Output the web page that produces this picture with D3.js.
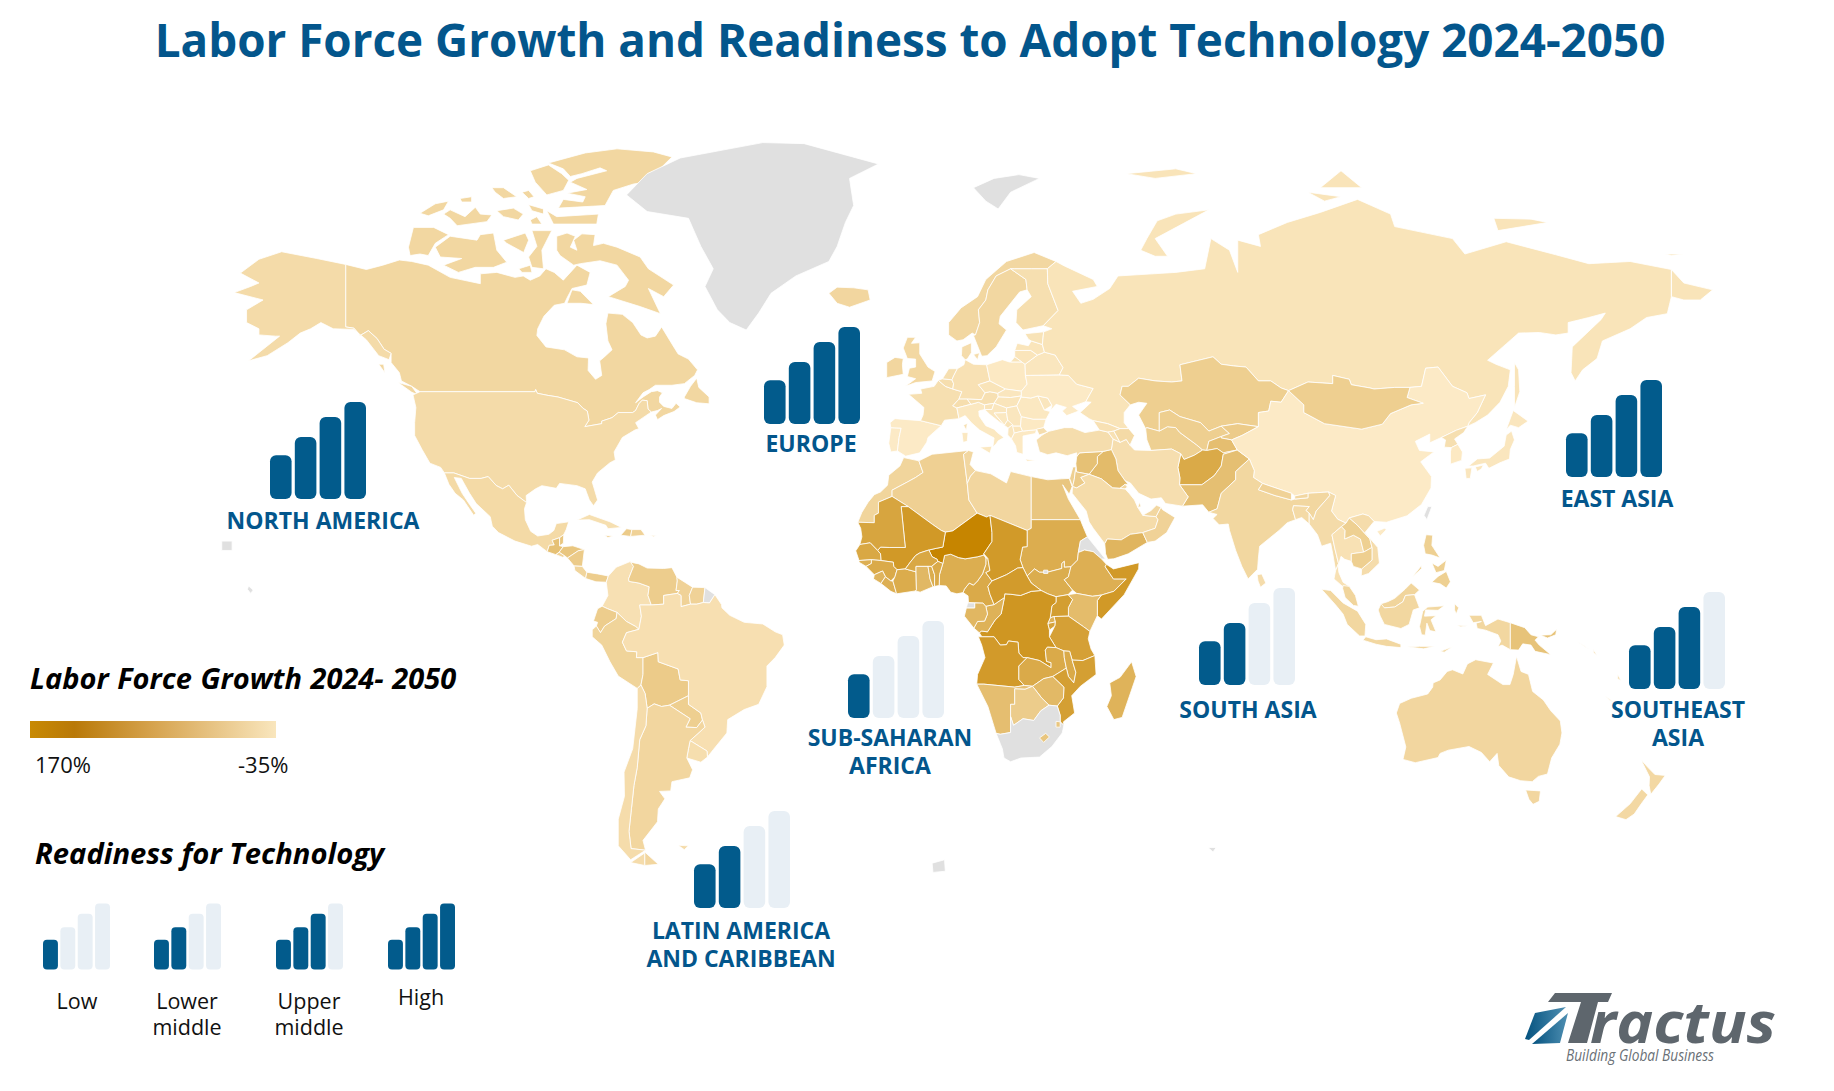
<!DOCTYPE html>
<html><head><meta charset="utf-8">
<script src="https://cdn.jsdelivr.net/npm/d3@7"></script>
<style>html,body{margin:0;background:#fff}svg{display:block}text{font-family:"Open Sans",sans-serif}</style>
</head><body><svg id="c" width="1834" height="1091"></svg>
<script>
// ---------- data ----------
const chartTitle = "Labor Force Growth and Readiness to Adopt Technology 2024-2050";
const growthLegendTitle = "Labor Force Growth 2024- 2050";
const readinessLegendTitle = "Readiness for Technology";
const growthDomain = [-35, 170];
const growthRange = ["#fdebc8", "#c68500"];
const readinessTiers = ["Low", "Lower middle", "Upper middle", "High"];
const regionNames = [["NORTH AMERICA"], ["EUROPE"], ["EAST ASIA"], ["SUB-SAHARAN", "AFRICA"], ["LATIN AMERICA", "AND CARIBBEAN"], ["SOUTH ASIA"], ["SOUTHEAST", "ASIA"]];
const regionReadiness = [4, 4, 4, 1, 2, 2, 3];
const barRelativeHeights = [0.45, 0.64, 0.845, 1];

// growth in % by country (null = no data)
const growth = {
Canada:5,USA:-3,Mexico:0,Guatemala:50,Belize:40,Salvador:15,Honduras:40,Nicaragua:30,CostaRica:10,Panama:25,Cuba:-10,Haiti:30,Dominican:15,Jamaica:5,PuertoRico:-10,
Colombia:-13,Venezuela:25,Guyana:15,Suriname:15,FrenchGuiana:null,Ecuador:25,Peru:12,Bolivia:30,Paraguay:22,Brazil:-11,Uruguay:-8,Argentina:7,Chile:-5,Falkland:-5,
Greenland:null,Iceland:7,Svalbard:null,
Morocco:10,Algeria:19,Tunisia:5,Libya:7,Egypt:39,Sudan:89,SouthSudan:90,Eritrea:null,Ethiopia:85,Somalia:130,Kenya:60,Uganda:120,Tanzania:115,Rwanda:80,Burundi:110,DRC:135,Congo:80,Gabon:70,EqGuinea:null,Cameroon:95,Nigeria:88,Niger:170,Chad:128,CAR:125,Mali:130,Mauritania:105,Senegal:100,GuineaBissau:85,Guinea:95,SierraLeone:75,Liberia:85,IvoryCoast:92,BurkinaFaso:100,Ghana:68,Togo:90,Benin:95,Angola:127,Zambia:95,Malawi:95,Mozambique:118,Zimbabwe:65,Namibia:55,Botswana:28,SouthAfrica:null,Lesotho:40,Eswatini:40,Madagascar:78,Abyei:null,
Portugal:-33,Spain:-33,France:-10,Belgium:-8,Netherlands:-10,Germany:-15,Switzerland:-8,Italy:-28,Austria:-12,Czechia:-20,Poland:-30,Slovakia:-25,Hungary:-22,Slovenia:-20,Croatia:-25,Bosnia:-28,Serbia:-25,Montenegro:-20,Albania:-25,NMacedonia:-22,Greece:-30,Bulgaria:-30,Romania:-28,Moldova:-25,Ukraine:-33,Belarus:-25,Lithuania:-22,Latvia:-22,Estonia:-18,Denmark:-5,Norway:5,Sweden:5,Finland:-10,UK:4,Ireland:7,
Russia:-20,Kazakhstan:22,Turkmenistan:20,Uzbekistan:22,Kyrgyzstan:30,Tajikistan:55,Afghanistan:96,Pakistan:53,Iran:-9,Iraq:61,Syria:50,Israel:20,Jordan:30,SaudiArabia:-4,Yemen:73,Oman:15,UAE:5,Qatar:5,Kuwait:5,Turkey:-7,Georgia:-15,Armenia:-15,Azerbaijan:0,China:-33,Taiwan:null,Mongolia:22,NKorea:-10,SKorea:-30,Japan:-25,India:6,Nepal:15,Bhutan:5,Bangladesh:0,SriLanka:-5,Myanmar:-3,Thailand:-15,Laos:20,Vietnam:-5,Cambodia:22,Malaysia:10,Indonesia:6,Philippines:20,PNG:46,Australia:7,NewZealand:3,Pacific:5,OceanGrey:null
};

// outlines: lon lat pairs by country
const outlines = {
Canada:["-123 49,-95.15 49,-95 49.4,-94.6 48.7,-92 48.3,-89.6 48,-84.8 46.9,-83.5 45.8,-82.5 45.3,-82.1 43.5,-83.1 42.2,-79 42.8,-79 43.3,-76.5 44,-75 45,-71.5 45,-70.8 45.4,-70 46.7,-69.2 47.4,-68 47.3,-67.8 45.7,-67 45.1,-65.5 45.4,-64.5 45.8,-66 44.5,-65.5 43.6,-64 44.4,-61.5 45.2,-60 46.1,-61 46.8,-62 45.8,-64 46.2,-65 47,-65 48,-64.3 48.8,-65.5 49.2,-67 49,-69 48,-70.8 46.9,-69 48.8,-67.5 49.4,-66 50.2,-62 50.2,-59 50.5,-56.5 52,-55.8 53,-58 54.9,-60.5 55.8,-62 57.5,-64.5 60.3,-66 58.8,-68 58.5,-69.5 59,-71.5 61,-74 62.3,-77.5 62.5,-78 60.8,-77.5 58,-76.5 56.5,-78.5 55.2,-79.5 54.6,-79 52,-80.5 51.3,-82.3 52.9,-82.2 55.1,-85 55.3,-88 56.5,-92.5 57,-94.7 58.9,-94.5 60,-93 62,-90.5 63.7,-88 64,-87.4 64.8,-86.2 66.2,-82.6 66.7,-81.8 68.5,-85 69.5,-88.3 67.4,-90.5 68.5,-92.5 69,-94 68,-96.3 67.4,-98 68,-100 67.8,-104.4 68.5,-108.4 68.3,-108.4 66.9,-115.7 67.8,-121 69.5,-125 70,-128 70.2,-132 69.5,-136 68.9,-141 69.6,-141 60.3,-139 60.1,-137.5 58.9,-135.5 59.7,-133.4 58.4,-131.7 56.6,-130 55.9,-130 54.3,-128 52.5,-127.5 51,-125 50",
"-91.9 81.6,-83 82.6,-75.3 83,-66.5 82.7,-62 82.2,-64.9 81,-67.7 80.5,-65.3 79.8,-71.3 79.4,-76.2 78.7,-78.2 77,-89.5 76.7,-88.3 77.7,-83.6 77.4,-83 78,-87.4 78.4,-82.6 78.8,-86.6 79.6,-85 80,-77.8 80.8,-79.4 81.1,-83.8 80.5,-86.6 80.2,-88.3 81",
"-96.3 80.8,-91.9 81.4,-88.7 80.5,-87 79.8,-88.3 78.7,-92.3 78.2,-95.1 79.6",
"-98.3 78.5,-96.7 78.7,-95.4 78,-96.7 77.8","-105.6 79,-102.8 79,-99.6 78,-102.8 77.8,-104.8 78.5","-113.3 77.8,-110.5 78,-110.5 77.4,-112.9 77.4",
"-123 76.1,-119.3 77.2,-116.1 77.5,-117.3 76.5,-121 75.8",
"-117.3 76,-115.7 76.5,-112.1 75.7,-109.6 76.8,-108.4 76,-105.6 75.9,-106.8 75.1,-114 74.6,-115.7 75.5",
"-104.4 76.4,-100.4 76.7,-98 76,-99.2 75.3,-102.8 75.7",
"-92.3 76.4,-89.9 75.7,-79.8 76,-80.2 74.8,-90.7 74.8",
"-96.7 77.1,-93.1 76.6,-93.1 76,-95.9 76.4","-96.3 75.3,-94.7 75.7,-93.5 74.8,-95.9 74.8",
"-124.6 74.4,-119.7 74.4,-116.1 73.5,-119.3 72.4,-121 70.8,-123 71,-125.4 70.8,-125.8 71.9",
"-119.3 71.9,-115.7 73.3,-109.2 72.8,-108.4 73.5,-105.2 73.7,-104.4 71.5,-102 69.9,-105.2 69.2,-109.6 69.2,-113.7 68.5,-117.3 69.5,-112.9 70.4,-118.1 70.6",
"-102.8 72.8,-97.5 73.7,-96.7 72.8,-97.9 71.2,-102 72.4",
"-95.9 74,-91.1 74,-93.5 71.5,-93.1 69,-95.9 69.2,-96.7 70.6,-94.7 72",
"-89.9 71.5,-89.9 73.3,-87.4 73.7,-85.4 73.3,-86.6 71.9,-85 71.5,-85.8 72.8,-83.8 73.6,-80.6 73.5,-81 72.1,-78.6 72.4,-75.3 71.9,-69.7 70.6,-67.7 69,-61.6 66.7,-64 65,-67.7 66.2,-64.8 62.4,-69.7 63.5,-77.4 65,-73.3 66.5,-72.5 67.4,-75.3 69.5,-79.4 70.1,-84.2 69.7,-85.8 69.5,-89.1 70.8",
"-99.1 69,-96.3 69.5,-95.9 68.5,-98.3 68.5",
"-87.4 64,-86.2 66,-84.2 65.8,-81 63.8,-84 64",
"-59 47.7,-56 46.9,-53 46.7,-53 48,-55.5 49.8,-56 51.5,-57.5 50,-59 48","-128.3 50.7,-125 48.9,-123.5 48.4,-125 50","-133 54,-131.8 54,-131.5 52.5"],
USA:["-123 49,-124.7 48.4,-124 46,-124.3 43,-124.3 40.4,-122.5 37.5,-120.6 34.6,-118 33.7,-117.1 32.5,-114.8 32.5,-111 31.3,-108.2 31.3,-106.5 31.7,-104.5 29.7,-103 29,-101.5 29.8,-99.5 27.5,-97.2 25.9,-97.3 27.5,-95 29,-93.5 29.7,-90 29.1,-89.2 30.2,-85 29.7,-83 29,-82 26.5,-81 25.2,-80 26.5,-81.3 30.5,-80 32.5,-77 34.7,-75.7 35.3,-76 37,-74 40,-71 41.5,-70 41.8,-70.8 43,-69 44,-67 45.1,-67.8 45.7,-68 47.3,-69.2 47.4,-70 46.7,-70.8 45.4,-71.5 45,-75 45,-76.5 44,-79 43.3,-79 42.8,-83.1 42.2,-82.1 43.5,-82.5 45.3,-83.5 45.8,-84.8 46.9,-89.6 48,-92 48.3,-94.6 48.7,-95 49.4,-95.15 49",
"-141 69.6,-148 70.4,-156.5 71.3,-162 70.3,-166.5 68.4,-162 67,-164 66.5,-168 65.6,-161 64.5,-165 63,-165 61,-162 60,-162 59,-158 58.8,-157 58.8,-164.5 54.6,-160 55.5,-155 57.7,-152 59.3,-149.5 60,-147 61,-144 60,-139 59.9,-136 58.2,-133 55.5,-130.5 54.8,-130 55.9,-131.7 56.6,-133.4 58.4,-135.5 59.7,-137.5 58.9,-139 60.1,-141 60.3"],
Mexico:["-117.1 32.5,-116 30,-114.5 28,-112.5 26.5,-110 23,-109.5 23.5,-111 25.5,-112.8 28,-114.7 31.5,-113 31.3,-111 28,-109.4 25.7,-106 22.7,-105.5 20.5,-104 19,-100 17,-96 15.8,-94.5 16.2,-92.2 14.5,-91.7 16,-90.5 16.1,-91 17.2,-89.2 17.8,-88.2 18.5,-87.6 19.7,-87 21.5,-90 21.1,-90.6 19.5,-91.8 18.6,-94.5 18.2,-96.2 19.3,-97.5 22,-97.7 24.5,-97.2 25.9,-99.5 27.5,-101.5 29.8,-103 29,-104.5 29.7,-106.5 31.7,-108.2 31.3,-111 31.3,-114.8 32.5"],
Guatemala:["-92.2 14.5,-91.7 16,-90.5 16.1,-91 17.2,-89.2 17.8,-89.2 15.9,-88.3 15.7,-89.3 14.4,-90.1 13.8"],
Belize:["-89.2 17.8,-88.2 18.5,-88.3 16.5,-89.2 15.9"],Salvador:["-90.1 13.8,-89.3 14.4,-87.8 13.4,-88.5 13.2"],
Honduras:["-89.3 14.4,-88.3 15.7,-86 15.9,-83.2 15,-84.7 14.7,-87.3 13,-87.8 13.4"],Nicaragua:["-87.3 13,-84.7 14.7,-83.2 15,-83.7 11,-85.7 11.1"],
CostaRica:["-85.7 11.1,-83.7 11,-82.6 9.6,-82.9 8.1,-85.5 10"],Panama:["-82.9 8.1,-82.6 9.6,-80 9.2,-77.4 8.7,-77.9 7.2,-80.4 7.3"],
Cuba:["-85 21.9,-82 23.2,-77 21.5,-74.2 20.2,-77.5 19.9,-78 20.7,-82 22"],Haiti:["-74.4 18.4,-72 18.1,-71.7 19.7,-73 19.9"],Dominican:["-71.7 19.7,-72 18.1,-68.5 18.4,-69.5 19.7"],Jamaica:["-78.3 18.4,-76.3 18.2,-77.5 17.8"],PuertoRico:["-67.2 18.4,-65.7 18.3,-66.5 18"],
Colombia:["-77.4 8.7,-75.5 10.8,-72 12.2,-71.3 11,-72.5 8,-72.4 7.4,-70 7,-67.5 6.1,-67.8 4,-67 1.7,-69.8 1.7,-69.4 -1,-70 -4.2,-70.8 -3.5,-73 -2.3,-75.3 -0.1,-77.6 0.8,-78.9 1.4,-77.5 4,-77.9 7.2"],
Venezuela:["-71.3 11,-72 12,-70 11.6,-68 10.6,-64 10.5,-62 10.7,-60.8 8.4,-60.7 7.5,-61 5.2,-60.2 5.2,-60.7 4.5,-64 4,-64 1.9,-67 1.7,-67.8 4,-67.5 6.1,-70 7,-72.4 7.4,-72.5 8"],
Guyana:["-60.8 8.4,-57 6,-57.8 4,-57.5 1.9,-59.8 1.3,-59.8 4,-60.7 4.5,-60.2 5.2,-61 5.2,-60.7 7.5"],Suriname:["-57 6,-54 5.9,-54.4 2.3,-56 1.9,-57.5 1.9,-57.8 4"],FrenchGuiana:["-54 5.9,-51.6 4.2,-52.9 2.2,-54.4 2.3"],
Ecuador:["-78.9 1.4,-77.6 0.8,-75.3 -0.1,-75.5 -1.6,-78.3 -3.4,-79.3 -5,-80.3 -3.4,-80 -2.5,-81 -2.2,-80 0.8"],
Peru:["-80.3 -3.4,-79.3 -5,-78.3 -3.4,-75.5 -1.6,-75.3 -0.1,-73 -2.3,-70.8 -3.5,-70 -4.2,-73 -5,-74 -7.3,-73 -9.4,-70.5 -9.6,-70.6 -11,-69 -11,-69 -15,-69.5 -17.5,-70.4 -18.3,-75 -15.4,-77 -12,-79 -8,-81.3 -6,-81.3 -4.3"],
Bolivia:["-69 -11,-65.4 -9.8,-65.3 -12,-60.5 -13.7,-60 -16.3,-58 -16.5,-58 -20,-62.6 -22.2,-64.5 -22.5,-66.3 -21.9,-68 -22.9,-68.5 -19.5,-69.5 -17.5,-69 -15"],
Paraguay:["-62.6 -22.2,-58 -20,-58 -22,-55 -24,-54.6 -25.6,-56 -27.3,-58.6 -27.2,-57.6 -25.3"],
Brazil:["-51.6 4.2,-50 1.8,-49.9 1,-48 -0.8,-44.5 -2.5,-40 -2.9,-37 -4.8,-35.2 -5.5,-34.8 -8,-37 -11,-39 -13,-39 -17.9,-41 -22,-44.5 -23.2,-48.5 -25.5,-48.7 -28.5,-52 -32.2,-53.4 -33.8,-53.5 -32.5,-57.6 -30.2,-54 -27.2,-54.6 -25.6,-55 -24,-58 -22,-58 -20,-58 -16.5,-60 -16.3,-60.5 -13.7,-65.3 -12,-65.4 -9.8,-69 -11,-70.6 -11,-70.5 -9.6,-73 -9.4,-74 -7.3,-73 -5,-70 -4.2,-69.4 -1,-69.8 1.7,-67 1.7,-64 1.9,-64 4,-60.7 4.5,-59.8 4,-59.8 1.3,-57.5 1.9,-56 1.9,-54.4 2.3,-52.9 2.2"],
Uruguay:["-57.6 -30.2,-53.5 -32.5,-53.4 -33.8,-55 -34.9,-58.4 -34,-58 -32"],
Argentina:["-66.3 -21.9,-64.5 -22.5,-62.6 -22.2,-57.6 -25.3,-58.6 -27.2,-56 -27.3,-54.6 -25.6,-54 -27.2,-57.6 -30.2,-58 -32,-58.4 -34,-57 -36.5,-57.7 -38.2,-62 -39,-62.3 -40.9,-65 -41,-63.7 -42.5,-65.3 -44.5,-65.5 -47,-69 -50.5,-68.4 -52.3,-71.9 -52,-72.4 -48.8,-71.8 -44.4,-71.2 -39.8,-70.4 -36,-69.8 -30,-68.3 -26.9,-68 -22.9","-68.6 -52.6,-65.3 -54.8,-68.6 -55"],
Chile:["-70.4 -18.3,-69.5 -17.5,-68.5 -19.5,-68 -22.9,-68.3 -26.9,-69.8 -30,-70.4 -36,-71.2 -39.8,-71.8 -44.4,-72.4 -48.8,-71.9 -52,-68.4 -52.3,-72 -54,-75 -51.5,-75 -46.5,-73.5 -42,-73.6 -37,-71.5 -32,-70.4 -23","-68.6 -52.8,-68.6 -55,-72 -54.5"],
Falkland:["-60.5 -51.4,-58 -51.5,-59 -52.2"],
Greenland:["-73 78.2,-68 76.3,-58 75.5,-55 72,-52 69,-54 66.5,-51 63,-48 61,-44 59.8,-41 62.5,-38 65.5,-32 68,-24 70,-22 72,-20 75,-18 77,-19 80,-12 81.5,-30 83.5,-40 83.6,-60 82.1,-68 80.5"],
Iceland:["-24 65.5,-22 64,-19 63.4,-14 64.5,-14.5 66,-18 66.3,-22 66.4"],
Svalbard:["11 79,16 80,22 80.4,27 80,20 78.5,17 76.6,14 77.5"],
Morocco:["-5.9 35.8,-2.2 35.1,-1.2 32.6,-3 31.5,-5 30.5,-8.7 28.7,-8.7 27.3,-12 26,-12 23.5,-13 23,-13 21.3,-17 21.4,-16 23.7,-14.5 26,-13 27.7,-11.5 28.3,-9.8 29.8,-9.5 32,-6.8 34"],
Algeria:["-2.2 35.1,1 36.5,9.8 37.3,8.6 36.5,9.5 30.2,9.9 26.5,11.9 23.5,6 19.4,4.2 19.1,3.2 19.5,1.1 20.9,-4.8 25,-8.7 27.3,-8.7 28.7,-5 30.5,-3 31.5,-1.2 32.6"],
Tunisia:["8.6 36.5,9.8 37.3,11 37,10.2 34.3,11.5 33,10.3 31.8,9.5 30.2"],
Libya:["11.5 33,15.2 32.3,19 30.3,20 32.8,25 31.7,25 20,24 19.5,15 23,14.2 22.6,11.9 23.5,9.9 26.5,9.5 30.2,10.3 31.8"],
Egypt:["25 31.7,29 31,32.3 31.2,34.2 31.3,34.9 29.5,34.2 27.8,32.6 29.9,34 26.7,36.9 22,25 22"],
Sudan:["25 22,36.9 22,37.3 21,38.6 18,36.9 17,36.4 14.3,36.2 12.5,34.6 10.9,33 10.8,33 12.2,32.4 11.7,32.4 10.5,28.9 9.6,27 9.6,25.8 10.4,24 8.7,23 10.7,22.3 12.6,22.9 15.6,24 15.7,24 19.5,25 20"],
SouthSudan:["24 8.7,25.8 10.4,27 9.6,28.9 9.6,32.4 10.5,32.4 11.7,33 12.2,33 10.8,34.6 10.9,34 8.5,33 7.8,35 5.3,33.9 4.2,31 3.7,29 4.4,27.4 5.2,25 7"],
Abyei:["28 9.3,29 9.3,29 10.1,28 10.1"],
Eritrea:["36.4 14.3,36.9 17,38.6 18,43 12.7,42 12.8,40 14.5,37.9 14.9"],
Ethiopia:["36.2 12.5,36.4 14.3,37.9 14.9,40 14.5,42 12.8,43.2 11.5,42.9 10.9,44.9 8,48 8,45 5,42 4.1,39.8 3.8,36 4.5,35 5.3,33 7.8,34 8.5,34.6 10.9"],
Somalia:["43.2 11.5,44.9 10.4,51.1 11.9,51 10.4,47.5 4.2,42 -1.7,41 -0.9,41 2.8,42 4.1,45 5,48 8,44.9 8,42.9 10.9"],
Kenya:["33.9 4.2,36 4.5,39.8 3.8,42 4.1,41 2.8,41 -0.9,39.2 -4.7,37.7 -3.6,34 -1,34 1.1,35 3"],
Uganda:["31 3.7,33.9 4.2,35 3,34 1.1,34 -1,30.5 -1.1,29.6 -1.4,30 1.5,31 2.3"],
Tanzania:["30.5 -1.1,34 -1,37.7 -3.6,39.2 -4.7,38.8 -6.5,39.5 -9,40.4 -10.5,37.5 -11.7,34.9 -11.6,34.3 -9.5,32.9 -9.4,31 -8.6,29.4 -6,30.7 -3.4,30.8 -2.4"],
Rwanda:["29.6 -1.4,30.5 -1.1,30.8 -2.4,29 -2.8"],Burundi:["29 -2.8,30.8 -2.4,30.7 -3.4,29.4 -4.4"],
DRC:["12.2 -6,13 -5.9,12.4 -5,13 -4.6,14.4 -4.8,16.2 -2,17.7 -0.5,18.5 3.5,18.6 4.4,20 4.3,22.4 4,25 5,27.4 5.2,29 4.4,31 3.7,31 2.3,30 1.5,29.6 -1.4,29 -2.8,29.4 -4.4,29.4 -6,31 -8.6,28.9 -8.5,28.4 -9.2,28.7 -11.9,29.8 -12.2,29.8 -13.4,27 -11.7,24 -11,23 -11,22 -9.9,21.8 -7.3,19.5 -7,19 -7.9,17.5 -8,16 -6"],
Congo:["11.1 -3.9,12.4 -5,13 -4.6,14.4 -4.8,16.2 -2,17.7 -0.5,18.5 3.5,16 1.8,14 1.4,14.4 -0.5,13.7 -2.2,12 -2.3,12.6 -1"],
Gabon:["9.3 1,11.3 1,11.3 2.2,13.3 2.2,14 1.4,14.4 -0.5,13.7 -2.2,12 -2.3,11.1 -3.9,8.8 -1"],EqGuinea:["9.6 2.2,11.3 2.2,11.3 1,9.3 1"],
Cameroon:["8.5 4.7,9.7 3.9,9.8 2.3,13.3 2.2,14 1.4,16 1.8,15 4.3,14.5 6.2,15.5 7.5,14 9.5,15 10,14.5 12.9,14 13,14 11.5,13.2 9.2,12 7.5,11 6.5,10 7,8.8 5.5"],
Nigeria:["2.7 6.4,4.4 6.3,5.5 4.8,7 4.4,8.5 4.7,8.8 5.5,10 7,11 6.5,12 7.5,13.2 9.2,14 11.5,14 13,13.5 13.7,12 13.3,9 12.8,7.4 13.1,5.5 13.9,4 13.6,3.6 11.7,2.8 9.1"],
Niger:["0.2 14.9,2 15.3,3.6 15.6,4.2 19.1,6 19.4,11.9 23.5,14.2 22.6,15 23,15.5 19,15.5 16.9,13.5 14,13.5 13.7,12 13.3,9 12.8,7.4 13.1,5.5 13.9,4 13.6,3.6 11.7,2.4 12.2,2.2 12.7,1 13.3"],
Chad:["15 23,24 19.5,24 15.7,22.9 15.6,22.3 12.6,23 10.7,21.7 10.6,19 9,15.5 7.5,14 9.5,15 10,14.5 12.9,13.5 14,15.5 16.9,15.5 19"],
CAR:["14.5 6.2,15 4.3,16 1.8,18.5 3.5,18.6 4.4,20 4.3,22.4 4,25 5,27.4 5.2,25 7,24 8.7,23 10.7,21.7 10.6,19 9,15.5 7.5"],
Mali:["-12.2 14.8,-11.5 15.6,-9.4 15.5,-5.5 15.5,-6.5 25,-4.8 25,1.1 20.9,3.2 19.5,4.2 19.1,3.6 15.6,2 15.3,0.2 14.9,-2 14.2,-3 13.6,-4.3 12,-5.5 10.4,-7.5 10.2,-8.3 11,-8.4 12,-11.4 12.4,-11.5 14"],
Mauritania:["-17 21.4,-13 21.3,-13 23,-12 23.5,-12 26,-8.7 27.3,-4.8 25,-6.5 25,-5.5 15.5,-9.4 15.5,-11.5 15.6,-12.2 14.8,-14 16.6,-16.5 16.2,-16 18,-16.3 20"],
Senegal:["-16.5 16.2,-14 16.6,-12.2 14.8,-11.5 14,-11.4 12.4,-13.7 12.6,-16.7 12.4,-17.5 14.7"],
GuineaBissau:["-16.7 12.4,-13.7 12.6,-13.7 11.7,-15 11,-16.7 12"],
Guinea:["-13.7 12.6,-11.4 12.4,-8.4 12,-8.3 11,-7.5 10.2,-8 8.5,-9 7.5,-10.3 8.5,-11 9.9,-13 9,-15 11,-13.7 11.7"],
SierraLeone:["-13 9,-11 9.9,-10.3 8.5,-11.4 6.9,-13.2 8"],Liberia:["-11.4 6.9,-10.3 8.5,-9 7.5,-8.5 7.5,-7.6 4.4,-9 5"],
IvoryCoast:["-7.6 4.4,-8.5 7.5,-8 8.5,-7.5 10.2,-5.5 10.4,-2.9 9.7,-2.8 5.4,-3 5.1"],
BurkinaFaso:["-5.5 10.4,-4.3 12,-3 13.6,-2 14.2,0.2 14.9,1 13.3,2.2 12.7,2.4 12.2,0.9 11,-2.9 11,-2.9 9.7"],
Ghana:["-3 5.1,-2.8 5.4,-2.9 9.7,-2.9 11,0 11,0.5 8,1.2 6.1,-1.9 4.8"],Togo:["0 11,0.9 11,1.6 9,1.6 6.2,1.2 6.1,0.5 8"],Benin:["0.9 11,2.4 12.2,3.6 11.7,2.8 9.1,2.7 6.4,1.6 6.2,1.6 9"],
Angola:["12.2 -6,16 -6,17.5 -8,19 -7.9,19.5 -7,21.8 -7.3,22 -9.9,23 -11,24 -11,22 -13,22 -16.2,23.3 -17.6,21 -18,13.5 -17.3,11.8 -17.3,12 -15,13.8 -11,13 -8"],
Zambia:["22 -13,24 -11,27 -11.7,29.8 -13.4,29.8 -12.2,28.7 -11.9,28.4 -9.2,28.9 -8.5,31 -8.6,32.9 -9.4,33 -11,33.5 -13.5,30.2 -15.5,28 -16,25.3 -17.8,23.3 -17.6,22 -16.2"],
Malawi:["32.9 -9.4,34.3 -9.5,34.9 -11.6,35.8 -14.5,35.3 -17,34 -15.5,33.5 -13.5,33 -11"],
Mozambique:["34.9 -11.6,37.5 -11.7,40.4 -10.5,40.7 -15,36.9 -17.8,34.8 -20,35.5 -24,32.8 -26,32.9 -26.8,32 -26,32 -24.5,31.3 -22.4,32.8 -20.5,32.9 -18,30.2 -15.5,33.5 -13.5,34 -15.5,35.3 -17,35.8 -14.5"],
Zimbabwe:["25.3 -17.8,28 -16,30.2 -15.5,32.9 -18,32.8 -20.5,31.3 -22.4,29.3 -22.2,27.5 -20.5,25.9 -18.5"],
Namibia:["11.8 -17.3,13.5 -17.3,21 -18,23.3 -17.6,25.3 -17.8,23.5 -18.5,21 -18.4,21 -22,20 -22,20 -28.4,17.5 -28.8,16.5 -28.6,14.5 -22.5"],
Botswana:["21 -18.4,23.5 -18.5,25.3 -17.8,25.9 -18.5,27.5 -20.5,29.3 -22.2,27.3 -23.5,25.6 -25.7,23 -25.3,20.7 -26.8,20 -24.8,20 -22,21 -22"],
SouthAfrica:["16.5 -28.6,17.5 -28.8,20 -28.4,20 -24.8,20.7 -26.8,23 -25.3,25.6 -25.7,27.3 -23.5,29.3 -22.2,31.3 -22.4,32 -24.5,32 -26,32.9 -26.8,32.5 -28.5,30 -31.5,27 -33.8,22.5 -34,20 -34.8,18.4 -34,18 -32"],
Lesotho:["27 -29.6,28.5 -28.6,29.4 -29.4,28 -30.6"],Eswatini:["31 -25.9,32 -26,32 -27.2,31 -27.2"],
Madagascar:["49.3 -12,50.4 -15.5,47 -25,45 -25.5,43.3 -22.5,44.4 -20,44 -17,46.5 -15.7"],
Portugal:["-9 42,-6.5 41.9,-7 40,-7.4 37.2,-9 37,-9.5 38.8"],
Spain:["-9.2 43,-8 43.8,-1.8 43.4,3.2 42.4,0 40,-0.3 39,-2 36.8,-5.4 36.1,-7.4 37.2,-7 40,-6.5 41.9,-9 42"],
France:["-1.8 43.4,3.2 42.4,4 43.5,7.5 43.8,7 45.9,6 46.3,7.5 47.6,8.2 49,6 49.5,4.2 50,2.5 51.1,1.5 50,-1.8 49.5,-1.5 48.7,-4.7 48.5,-1 46,-1.2 44.5","8.6 42.5,9.5 42.9,9.3 41.4"],
Belgium:["2.5 51.1,4.2 50,6 49.5,6.2 50.5,5.8 51.2,3.5 51.4"],Netherlands:["3.5 51.4,5.8 51.2,6.2 51.9,7.1 53.2,5 53.2,4 52"],
Germany:["6 49.5,8.2 49,7.5 47.6,9.5 47.6,13 47.5,13.8 48.8,12.2 50.3,15 51,14.7 52.1,14.2 53.9,11 54,9 54.8,8.7 53.9,7.1 53.2,6.2 51.9,5.8 51.2,6.2 50.5"],
Switzerland:["6 46.3,7 45.9,10.4 46.6,9.5 47.6,7.5 47.6"],
Italy:["7.5 43.8,9 44.4,10.5 43,12.5 41.5,16 39.9,15.7 38,16.6 38.8,17 39.3,18.4 40,16.8 41,16 41.7,14 42.4,12.4 44.3,12.3 45.3,13.7 45.6,13.7 46.5,12.2 47,10.4 46.6,7 45.9","12.5 38,15.5 38.2,15 36.7","8.2 41,9.7 41,9.5 39.2,8.5 39"],
Austria:["9.5 47.6,10.4 46.6,12.2 47,13.7 46.5,16 46.8,17 48,16.9 48.7,15 49,13.8 48.8,13 47.5"],
Czechia:["12.2 50.3,13.8 48.8,15 49,16.9 48.7,18.8 49.5,15 51"],
Poland:["14.2 53.9,14.7 52.1,15 51,18.8 49.5,22.6 49.1,24 50.4,23.6 52,23.5 54,22.7 54.4,19.7 54.4,18 54.8"],
Slovakia:["16.9 48.7,17 48,20 47.9,22.6 48.2,22.6 49.1,18.8 49.5"],Hungary:["16 46.8,19 45.9,21.5 46.3,22.6 48.2,20 47.9,17 48"],
Slovenia:["13.7 45.6,15.5 45.6,16 46.8,13.7 46.5"],Croatia:["13.7 45.6,15 44.6,17.5 43,18.5 42.5,16 44.9,19 45,19 45.9,16 46.8,15.5 45.6"],
Bosnia:["16 44.9,19 45,19.3 43.5,18.5 42.5"],Serbia:["19 45.9,21.5 46.3,22.6 44.2,22.4 42.3,20.5 42.3,19.3 43.5,19 45"],
Montenegro:["18.5 42.5,19.3 43.5,20.5 42.6,19.4 41.9"],Albania:["19.4 41.9,20.5 42.6,20.9 40.9,20.2 39.7,19.3 40.5"],NMacedonia:["20.5 42.3,22.4 42.3,22.9 41.3,20.9 40.9"],
Greece:["20.2 39.7,20.9 40.9,22.9 41.3,26.3 41.6,26 40.8,23 40.3,23 38,23 36.5,21.5 36.9,21.2 38.3","23.5 35.5,26.3 35.2,24 35"],
Bulgaria:["22.4 42.3,22.6 44.2,25.5 43.7,28.6 43.7,28 42,26.3 41.6,22.9 41.3"],
Romania:["21.5 46.3,22.6 48,24.9 47.8,26.6 48.2,28.2 45.5,29.6 45.2,28.6 43.7,25.5 43.7,22.6 44.2"],Moldova:["26.6 48.2,29 47.8,30 46.4,28.2 45.5"],
Ukraine:["22.6 49.1,22.6 48,24.9 47.8,26.6 48.2,29 47.8,30 46.4,29.7 45.4,31 46.6,33.5 46,32.5 45.3,33.6 44.4,36.5 45.3,35 46.2,38.2 47.1,40 49.6,36 50.4,34 52,31.8 52.1,23.6 52,24 50.4"],
Belarus:["23.6 52,31.8 52.1,32.7 53.4,30.8 55.6,28.2 56.1,26.5 55.6,23.5 54"],Lithuania:["21 55.3,21 56.4,24.9 56.4,26.5 55.6,23.5 54,22.7 54.4"],
Latvia:["21 56.4,21.6 57.6,24.3 57.2,25 58,27.7 57.4,28.2 56.1,26.5 55.6,24.9 56.4"],Estonia:["24.3 58.3,23.5 59.2,28 59.5,27.7 57.4,25 58"],
Denmark:["8.1 55.5,8.2 57,10.5 57.7,10.5 56,9.5 54.9,9 54.8","11 55.7,12.5 56,12 54.8"],
Norway:["5 61,5 59,7 58,8.5 58.2,10.7 59.3,11.5 59,12.5 61,12.2 63,14 64.5,14.5 66,16.5 68,20 69,21 69,25 69,28.9 69,31 70,25.7 71.2,19 70,14 67.5,12 65,8 63.3"],
Sweden:["11 58.9,11.5 59,12.5 61,12.2 63,14 64.5,14.5 66,16.5 68,20 69,23.7 67.5,24 66,22.2 65.7,17.5 62,17.2 60.8,19 59.8,16.5 57,14.3 55.5,13 55.4"],
Finland:["21 69,25 69,28.9 69,29 66.9,31.5 62.9,27.9 60.5,23 59.8,21.3 61,21.5 63,25 65,24 66,23.7 67.5,20 69"],
UK:["-5.5 50,-3 50.7,1 51,1.7 52.7,0 53.5,-2 55.8,-2 57.7,-4 57.6,-3 58.6,-5 58.6,-6 56.8,-5 55,-3 54.9,-3 53.5,-4.5 53.3,-5 51.8,-3 51.4"],
Ireland:["-6.2 53.9,-6 52.2,-10 51.6,-10 54.3,-8 55.2,-6 55"],
Russia:["28 59.5,27.7 57.4,28.2 56.1,30.8 55.6,32.7 53.4,31.8 52.1,34 52,36 50.4,40 49.6,38.2 47.1,39.5 47,37.5 45.5,36.8 45,39 43.8,40 43.4,43.5 42.8,46.5 41.8,48.6 41.8,47.5 43,47.5 45,49 46.5,46.5 48.4,47 50,48.5 50,51 51.5,55 51,59 50.8,61.5 51,61 53.9,69 55.3,71 54,74 53.7,77 53.5,80 51,83 51,85.5 49.7,87.3 49.2,92 50.8,98 50.5,98 52,102 51.3,102.5 50.3,107 49.7,108 49.5,113 49.8,116.7 49.8,119.5 50,120.5 53.3,123.5 53.5,127 50,130.5 48.8,131 47.7,135 48.4,133 45,131 43,130.7 42.3,132.5 43,135.5 44.5,138.5 47,140.5 50,141 53,137.5 54,135.5 54.7,140 57.5,143 59.3,148 59.4,152 59,155 59.3,155 61,160 61.8,164 62.5,163 61.5,156 57,155.7 52.5,156.7 51,158.5 53,162 55,163.3 58,170 60,174 61.8,179 62.4,180 65,180 68.9,170 70,160 69.7,152 70.9,140 72.6,130 71,127 73,113 74.5,112 76,104 77.7,95 76.2,87 75,80 73.5,80.5 72,75 72.8,75 68.5,73 71.5,68.5 73,67 69,60 68.5,54.5 68.3,46 68,44 66.2,40 64.6,37 64,35 65.8,41 66.5,40 67.5,33 69.4,31 70,28.9 69,29 66.9,31.5 62.9,27.9 60.5,30 60",
"180 68.9,183 67,190 66,187 64.5,183 64.5,180 65","20 54.4,22.7 54.4,21 55.3","142 54.3,143 53,143.3 49,142 46,142 50","51.5 71.5,55 70.7,58 70.7,55 73,68 76.5,60 76,55.5 75.2,53 73","48 80.5,60 81,65 80.5,55 80","95 79,105 79,100 80.8","92 78.5,100 78,96 77.5","137 75.5,146 75.4,150 75,138 74","178.5 71,183 71,180 70.8"],
Kazakhstan:["49 46.5,46.5 48.4,47 50,48.5 50,51 51.5,55 51,59 50.8,61.5 51,61 53.9,69 55.3,71 54,74 53.7,77 53.5,80 51,83 51,85.5 49.7,87.3 49.2,85.5 47,83 47.2,82.5 45.3,80 45,80 42.2,75 42.8,71 42.3,68 41.3,66 43,61 44.2,58.5 45.5,56 45,56 41.3,53 42,52.7 41.8,51 44.5,53 46.8,51 47"],
Turkmenistan:["53 42,52.7 41.8,53 39.5,54 37.3,59 37.6,61.2 36.6,62 35.4,64.5 36.3,66.5 37.4,65 38.5,61 41,60 42,58 42.2,56 41.3"],
Uzbekistan:["56 45,58.5 45.5,61 44.2,66 43,68 41.3,71 42.3,73 40.8,71 40.2,68 39.2,67.5 37.3,66.5 37.4,65 38.5,61 41,60 42,58 42.2,56 41.3"],
Kyrgyzstan:["71 42.3,75 42.8,80 42.2,76 40.4,73.5 39.5,71 39.9,71 40.2,73 40.8"],Tajikistan:["68 39.2,71 40.2,71 39.9,73.5 39.5,74.9 37.4,71.5 36.8,70 37.7,67.5 37.3"],
Afghanistan:["61.2 36.6,60.5 33.7,61 31.4,60.9 29.9,66.3 29.9,69.3 31.9,71 34,71.5 36.5,74.9 37.4,71.5 36.8,70 37.7,67.5 37.3,66.5 37.4,64.5 36.3,62 35.4"],
Pakistan:["60.9 29.9,66.3 29.9,69.3 31.9,71 34,71.5 36.5,74.9 37.4,77.8 35.5,74.5 32.8,74.5 31,71 28,70 24.5,68 23.7,66.5 25.4,61.6 25.1,63 27.2"],
Iran:["44.8 39.7,46.5 39,48 39.6,48.9 38.4,50 37.4,54 37.3,59 37.6,61.2 36.6,60.5 33.7,61 31.4,60.9 29.9,63 27.2,61.6 25.1,57.5 25.7,56.5 27,54 26.7,51 28,49 30.3,47.7 30.8,46 33,45.5 35.5,44.4 37.5"],
Iraq:["42.4 37.1,44.4 37.5,45.5 35.5,46 33,47.7 30.8,48.5 30,47.7 30,46.5 29.1,44.7 29.2,42 31.2,39 32.2,41 34.5,41 36"],
Syria:["36 36,36.7 36.8,42.4 37.1,41 36,41 34.5,39 32.2,36 32.7,35.8 34.5"],Israel:["34.3 31.3,35.1 33.8,35.8 33.8,35.7 33,35.4 31,35 29.5"],
Jordan:["35.7 33,36 32.7,39 32.2,37 31.5,38 30.3,36 29.2,35 29.5,35.4 31"],
SaudiArabia:["35 29.5,36 29.2,38 30.3,37 31.5,39 32.2,42 31.2,44.7 29.2,46.5 29.1,47.7 29,48.7 28,50 26.5,50.8 24.8,52 23,55.2 22.7,55.7 22,55 20,52 19,49 18.6,46.8 17.3,43.4 17.5,42.8 16.4,40 20,39 21.5,38.3 24,36.6 26,34.9 28"],
Yemen:["42.8 16.4,43.4 17.5,46.8 17.3,49 18.6,52 19,53.1 16.7,48.5 14,45 12.8,43.5 12.7,43 14"],
Oman:["55 20,55.7 22,55.2 22.7,56.4 24.9,56.8 24.3,59.8 22.5,57.8 19,55 17,53.1 16.7,52 19"],UAE:["52 23,55.2 22.7,56.4 24.9,55.3 25.3,54 24.1"],Qatar:["50.8 24.8,51.2 26,51.6 25"],Kuwait:["47.7 29,46.5 29.1,47.7 30,48.3 29.4"],
Turkey:["26.2 39.5,27 37,29 36.4,31 36.8,33.7 36.2,36 36.8,36 36,36.7 36.8,42.4 37.1,44.4 37.5,44.8 39.7,43.6 41.1,41.5 41.5,38 41,35 42,33 42,29 41.2,27.5 40.4","26.3 41.7,28 42,29 41.1,26.9 40.5"],
Georgia:["40 43.4,43.5 42.8,46.5 41.8,45 41.3,43.6 41.1,41.5 41.5"],Armenia:["43.6 41.1,45 41.3,46.5 39,44.8 39.7"],Azerbaijan:["45 41.3,46.5 41.8,48.6 41.8,50 40.4,48.9 38.4,48 39.6,46.5 39"],
China:["73.5 39.5,76 40.4,80 42.2,80 45,82.5 45.3,83 47.2,85.5 47,87.3 49.2,91 46.5,91 45,96 42.8,105 41.7,110 42.7,112 44.8,117 46.5,119.9 46.8,116 47.9,116.7 49.8,119.5 50,120.5 53.3,123.5 53.5,127 50,130.5 48.8,131 47.7,135 48.4,133 45,131 43,130.7 42.3,128 41.5,124.3 40,121.5 38.9,121.5 40.7,118 39.2,119 37.3,122.5 37,119.3 34.9,121.9 31.7,121.8 29.2,119.5 25.5,116 22.9,111 21.4,108 21.6,106.7 22.9,105.3 23.3,102 22.4,101.2 21.2,99.2 22.1,97.7 24,98.7 27.5,97 28.3,92 28,88.8 27.4,88 28,81 30.2,78.8 31.5,79 33,77.8 35.5,74.9 37.4","108.7 19.3,110.5 20,111 19.7,109.5 18.2"],
Taiwan:["121 25,122 25,120.8 22,120.1 23"],
Mongolia:["87.3 49.2,92 50.8,98 50.5,98 52,102 51.3,102.5 50.3,107 49.7,108 49.5,113 49.8,116.7 49.8,116 47.9,119.9 46.8,117 46.5,112 44.8,110 42.7,105 41.7,96 42.8,91 45,91 46.5"],
NKorea:["124.3 40,128 41.5,130.7 42.3,129.7 41,127.5 39.7,128.3 38.6,126.7 37.9,125 38,125.3 39.5"],SKorea:["126.7 37.9,128.3 38.6,129.4 37,129.2 35.2,126.5 34.4,126.5 37"],
Japan:["130.9 34,133 35.5,136 35.7,139.5 38.2,140 40.5,141.3 41.3,142 39.5,141 37.5,140.8 35.5,138.5 34.7,135.8 33.5,135 34.6,132 34","140 41.6,141.7 45.4,145.3 43.3,143 42,141 42.5","130 33.5,131.7 33.6,131.3 31.3,130.3 31.3","132.5 33.8,134.5 34.2,134 33.4,133 32.8"],
India:["74.5 32.8,77.8 35.5,79 33,78.8 31.5,81 30.2,80 28.8,84 27.5,88 26.5,88.8 26.7,92 27,92 28,97 28.3,97.3 27.5,94 24,93.3 22,92.3 23.5,91.5 24.1,92.3 25,88.5 25.2,88.3 24.3,89 22,87 21.3,85 19.5,80.3 15.8,80 13,79.8 10.3,77.5 8,76 11,74.5 14.8,73 19.5,72.7 21,70.5 20.8,69 22.3,70 23.2,68 23.7,70 24.5,71 28,74.5 31"],
Nepal:["81 30.2,88 28,88 26.5,84 27.5,80 28.8"],Bhutan:["88.8 27.4,92 28,92 27,88.8 26.7"],Bangladesh:["88.3 24.3,88.5 25.2,92.3 25,91.5 24.1,92.3 23.5,92.3 21,90.5 22.5,89 22"],SriLanka:["79.7 9,80.8 9.2,81.8 7,80.5 6,79.9 7.5"],
Myanmar:["92.3 21,92.3 23.5,93.3 22,94 24,97.3 27.5,97 28.3,98.7 27.5,97.7 24,99.2 22.1,101.2 21.2,100.1 20.4,97.8 18.5,98.5 15.3,99.4 11.7,98.7 10,98 14,97.5 16.5,95.3 15.8,94.3 18.5"],
Thailand:["100.1 20.4,101 19.5,100.9 17.5,103 18.4,104.7 17.5,105.5 14.4,102.5 14,102.5 12.2,100.9 12.7,100 13.4,99.3 11,99.5 9.5,100.5 7.2,102 6.2,101 5.7,100 6.5,98.3 8,98.7 10,99.4 11.7,98.5 15.3,97.8 18.5"],
Laos:["101.2 21.2,102 22.4,104 20.7,107 17.5,107.5 15.5,105.5 14.4,104.7 17.5,103 18.4,100.9 17.5,101 19.5,100.1 20.4"],
Vietnam:["102 22.4,105.3 23.3,106.7 22.9,108 21.6,105.8 19,108.9 15.5,109.3 11.8,106.7 9.3,104.9 8.7,105 10.4,107.5 12.5,107.5 15.5,107 17.5,104 20.7"],
Cambodia:["102.5 14,105.5 14.4,107.5 15.5,107.5 12.5,105 10.4,103 11,102.5 12.2"],
Malaysia:["100.5 6.4,102 6.2,103.5 4,104.2 1.4,103 1.6,101 3.5,100.4 5.7","109.7 2,111.3 2.5,113 3.3,115.5 5.5,117 7,119 5.3,117.8 4.2,115.6 4,115 2.5,113 1.2,110.5 1,109.7 1.5"],
Indonesia:["109 0.5,109.7 2,110.5 1,113 1.2,115 2.5,115.6 4,117.8 4.2,119 1,117.5 0.5,116.5 -3,114.5 -4,110.5 -3,109.5 -1","95.3 5.5,97.5 5.2,100.5 2.2,104 0.2,106 -3,105.8 -5.8,104.5 -5.8,101.5 -3,100.5 -0.5,98.7 1.7","105.3 -6.8,106 -6,108.5 -6.7,111 -6.5,114.5 -7.8,114.5 -8.6,111 -8.3,108.5 -7.8","119.5 -5.5,119 -3.5,119.8 0.2,121 1.2,125 1.5,123.5 0.4,120.5 0.5,120.2 -1,123 -0.9,121.8 -1.9,123 -4.8,121.5 -4.5,120.8 -2.7,120.4 -5.6","131 -0.8,134 -0.8,135 -3.3,138 -1.7,141 -2.6,141 -9.1,139 -8,138 -8.4,138.7 -7,138 -5.5,135 -4.4,133 -4,132.7 -2.7,134 -2.3,132 -2.6","124 -9.5,127 -8.4,125 -9.7","116 -8.4,119 -8.3,122.8 -8.3,120 -8.9","127.5 2,128.5 1,127.9 -0.5,127.5 0.5","128 -3.2,130.8 -3.3,129 -3.6"],
Philippines:["120.6 18.5,122.2 18.4,122 16,124 13,122 13.7,120.4 14,120 16","122 7.2,123.5 8.6,125.5 9.8,126.5 7.3,125.5 5.8,124 6.8","122 11.8,123.5 11,125.5 12.5,125 10,123 9.5","117.2 8.4,119.5 11.2,119.5 10.5"],
PNG:["141 -2.6,144.5 -3.8,146 -5.5,147.8 -6,147 -6.8,148 -8,150.8 -10.3,147 -9.5,146 -8,144 -7.7,143 -9.2,141 -9.1","148.3 -5.6,150.8 -5.5,152.2 -4.2,152 -5.5,150 -6.3"],
Australia:["114.2 -21.8,117 -20.6,121 -19.6,122.2 -18,122.3 -17,124 -16.3,125.7 -14.3,127 -13.9,129.5 -14.9,130.6 -12.5,132.6 -11.5,136.9 -12.3,135.5 -15,139.2 -17.4,140.9 -17.4,141.7 -15,142.5 -10.7,143.6 -14.3,145.4 -15,146.4 -19,149 -21,150.8 -23.5,153.1 -25.8,153.5 -28.5,153 -31,151 -34,150 -37.4,147.8 -37.9,146.3 -39,143.5 -38.8,140.6 -38,138.2 -35.6,137.8 -33,136 -34.8,134 -32.8,131 -31.5,126 -32.3,124 -33,123.5 -33.9,118 -35,115 -34.3,115.7 -31.6,114.2 -26.3,113.4 -24","144.7 -40.7,148.3 -40.9,148 -43,146.5 -43.6,145.5 -42.6"],
NewZealand:["172.8 -34.5,174.3 -36,176 -37.5,178.5 -37.7,177 -39.5,175 -41.6,174.6 -39.8,174.7 -38,173 -35","172.8 -40.5,174.3 -41.7,172.7 -43.5,171 -45.5,169 -46.6,166.5 -46,170 -43.5"],
Pacific:["164 -20,167 -22.3,165 -21","157 -7,160 -9,159 -8.2","161 -9,162 -10.5,161.2 -9.9","167 -15,167.8 -16.5,167 -16","177.5 -17.5,178.6 -18,177.6 -18.2"],
OceanGrey:["-171 17,-168.5 17,-168.5 14.8,-171 14.8","-164.5 6.3,-163.4 5.3,-164 4.5,-164.8 5.5","1 -54.6,4 -54,4.2 -56,1.2 -56.2","67.8 -51.8,69.8 -51.8,69 -52.6"]
};
const landOrder = Object.keys(outlines);

// ---------- scales ----------
const W = 1834, H = 1091;
const svg = d3.select("#c");
const defs = svg.append("defs");
const degScale = 4.13, equatorY = 612, meridianX = 928;
const lonScale = d3.scaleLinear().domain([0, 180]).range([meridianX, meridianX + 180 * degScale]);
const miller = lat => 1.25 * Math.log(Math.tan(Math.PI / 4 + 0.4 * lat * Math.PI / 180));
const yScale = d3.scaleLinear().domain([0, 1]).range([equatorY, equatorY - degScale * 180 / Math.PI]);
const path = d3.geoPath(d3.geoTransform({ point(lon, lat) { this.stream.point(lonScale(lon), yScale(miller(lat))); } }));
const color = d3.scaleLinear().domain(growthDomain).range(growthRange).interpolate(d3.interpolateRgb);
const parseRing = s => { const r = s.split(",").map(p => p.trim().split(" ").map(Number)); r.push(r[0]); return r; };
const features = landOrder.map(name => ({ type: "Feature", properties: { name, growth: growth[name] },
  geometry: { type: "MultiPolygon", coordinates: outlines[name].map(s => [parseRing(s)]) } }));

// ---------- map ----------
svg.append("g").selectAll("path").data(features).join("path")
  .attr("d", path)
  .attr("fill", d => d.properties.growth === null ? "#e0e0e0" : color(d.properties.growth))
  .attr("stroke", "#fff").attr("stroke-width", 0.8).attr("stroke-linejoin", "round");

// ---------- title ----------
svg.append("text").attr("x", 910).attr("y", 57).attr("text-anchor", "middle")
  .attr("font-size", 45.8).attr("font-weight", 700).attr("fill", "#03568c").text(chartTitle);

// ---------- readiness icon ----------
function icon(level, x, bottom, w, h, bw, r) {
  const xs = d3.scaleBand().domain([0, 1, 2, 3]).range([x, x + w]).paddingInner(1 - bw);
  const ys = d3.scaleLinear().domain([0, 1]).range([0, h]);
  svg.append("g").selectAll("rect").data(barRelativeHeights).join("rect")
    .attr("x", (d, i) => xs(i)).attr("width", xs.bandwidth())
    .attr("y", d => bottom - ys(d)).attr("height", d => ys(d))
    .attr("rx", r).attr("ry", r)
    .attr("fill", (d, i) => i < level ? "#025b8c" : "#e8eff5");
}
const regionLayout = [
  { x: 270, b: 499, tx: 323, ty: [529] }, { x: 764, b: 424, tx: 811, ty: [452] },
  { x: 1566, b: 477, tx: 1617, ty: [507] }, { x: 848, b: 718, tx: 890, ty: [746, 774] },
  { x: 694, b: 908, tx: 741, ty: [939, 967] }, { x: 1199, b: 685, tx: 1248, ty: [718] },
  { x: 1629, b: 689, tx: 1678, ty: [718, 746] }];
regionNames.forEach((lines, i) => {
  const l = regionLayout[i];
  icon(regionReadiness[i], l.x, l.b, 96, 97, 0.87, 6);
  const t = svg.append("text").attr("text-anchor", "middle").attr("font-weight", 700)
    .attr("font-size", 23).attr("fill", "#03568c");
  lines.forEach((s, j) => t.append("tspan").attr("x", l.tx).attr("y", l.ty[j]).text(s));
});

// ---------- growth legend ----------
svg.append("text").attr("x", 30).attr("y", 689).attr("font-size", 29).attr("font-style", "italic")
  .attr("font-weight", 700).attr("word-spacing", 1).attr("fill", "#000").text(growthLegendTitle);
const grad = defs.append("linearGradient").attr("id", "g");
[[0, "#c88a03"], [0.18, "#b97908"], [0.5, "#d6a34e"], [1, "#f9e6bd"]].forEach(s =>
  grad.append("stop").attr("offset", s[0]).attr("stop-color", s[1]));
svg.append("rect").attr("x", 30).attr("y", 721).attr("width", 246).attr("height", 17).attr("fill", "url(#g)");
[["170%", 35], ["-35%", 238]].forEach(d => svg.append("text").attr("x", d[1]).attr("y", 773)
  .attr("font-size", 22).attr("fill", "#111").text(d[0]));

// ---------- readiness legend ----------
svg.append("text").attr("x", 35).attr("y", 864).attr("font-size", 29.2).attr("font-style", "italic")
  .attr("font-weight", 700).attr("fill", "#000").text(readinessLegendTitle);
const legendX = [43, 154, 276, 388], legendLabelX = [77, 187, 309, 421], legendLabelY = [1009, 1009, 1009, 1005];
readinessTiers.forEach((name, i) => {
  icon(i + 1, legendX[i], 969.5, 67, 66, 0.86, 4);
  const words = i === 1 || i === 2 ? name.split(" ") : [name];
  const t = svg.append("text").attr("text-anchor", "middle").attr("font-size", 21.5).attr("fill", "#111");
  words.forEach((w, j) => t.append("tspan").attr("x", legendLabelX[i]).attr("y", legendLabelY[i] + j * 26).text(w));
});

// ---------- logo ----------
const gem = defs.append("linearGradient").attr("id", "gem");
gem.append("stop").attr("offset", 0).attr("stop-color", "#04527f");
gem.append("stop").attr("offset", 1).attr("stop-color", "#4f8fb2");
const logoLine = d3.line();
const logo = svg.append("g");
[[[1525, 1039], [1535, 1013], [1566, 1007], [1529, 1040]], [[1532, 1044], [1560, 1043], [1568, 1013]]].forEach(p =>
  logo.append("path").attr("d", logoLine(p) + "Z").attr("fill", "url(#gem)"));
logo.append("path").attr("d", logoLine([[1548, 1002], [1555, 993], [1612, 993], [1608, 1002], [1598, 1002], [1587, 1043], [1568, 1043], [1581, 1002]]) + "Z").attr("fill", "#5e666d");
logo.append("text").attr("x", 1590).attr("y", 1043).attr("font-size", 58).attr("font-style", "italic").attr("font-weight", 700)
  .attr("textLength", 186).attr("lengthAdjust", "spacingAndGlyphs").attr("fill", "#5e666d").text("ractus");
logo.append("text").attr("x", 1566).attr("y", 1061).attr("font-size", 16).attr("font-style", "italic")
  .attr("textLength", 148).attr("lengthAdjust", "spacingAndGlyphs").attr("fill", "#6a7076").text("Building Global Business");
</script></body></html>
